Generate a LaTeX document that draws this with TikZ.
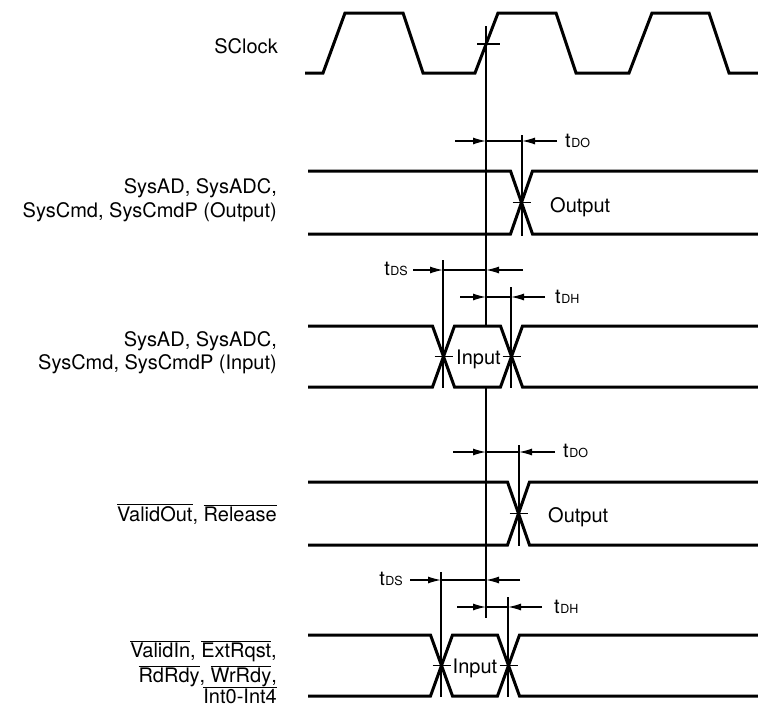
\documentclass[tikz,border=0pt]{standalone}
\usepackage{fontspec}
\setmainfont{TeX Gyre Heros}
\usetikzlibrary{arrows.meta}
\newcommand\ovl[1]{$\overline{\mbox{#1}}$}
\newcommand\tsub[1]{{\fontsize{20}{24}\selectfont t\kern0.5pt\fontsize{12.5}{14}\selectfont #1}}
\begin{document}
\begin{tikzpicture}[x=1pt,y=-1pt,
  sig/.style={line width=3pt},
  thinline/.style={line width=1.2pt},
  dim/.style={line width=1.3pt},
  tip/.style={dim,-{Latex[length=13pt,width=7pt]}},
  lab/.style={anchor=base east, inner sep=0pt, font=\fontsize{20}{24}\selectfont},
  txt/.style={inner sep=0pt, font=\fontsize{20}{24}\selectfont},
  tlab/.style={inner sep=0pt}]
\useasboundingbox (0,0) rectangle (758,713);

% ---- labels on the left
\node[lab] (lclk) at (278,53) {SClock};
\node[lab] (lo1a) at (277,193) {SysAD, SysADC,};
\node[lab] (lo1b) at (277,217) {SysCmd, SysCmdP (Output)};
\node[lab] (li1a) at (277,346) {SysAD, SysADC,};
\node[lab] (li1b) at (277,369) {SysCmd, SysCmdP (Input)};
\node[lab] (lo2) at (277,521) {\ovl{ValidOut}, \ovl{Release}};
\node[lab] (li2a) at (277,657) {\ovl{ValidIn}, \ovl{ExtRqst},};
\node[lab] (li2b) at (277,682) {\ovl{RdRdy}, \ovl{WrRdy},};
\node[lab] (li2c) at (277,703) {\ovl{Int0-Int4}};

% ---- clock
\draw[sig] (305,73) -- (323,73) -- (345,13) -- (403,13) -- (423,73) -- (475,73)
  -- (498,13) -- (556,13) -- (576,73) -- (629,73) -- (652,13) -- (709,13)
  -- (729,73) -- (758,73);
\draw[thinline] (477,44) -- (500,44);

% ---- main reference line
\draw[thinline] (486,26) -- (486,326);
\draw[thinline] (486,387) -- (486,618);

% ---- output row 1
\draw[sig] (308,171) -- (510.5,171) -- (532.5,234) -- (758,234);
\draw[sig] (308,234) -- (510.5,234) -- (532.5,171) -- (758,171);
\draw[thinline] (512.5,202.5) -- (530.5,202.5);
\draw[thinline] (522,135) -- (522,236);
\draw[tip] (455,141) -- (486,141);
\draw[dim] (486,141) -- (522,141);
\draw[tip] (557,141) -- (522,141);
\node[tlab, anchor=base west] (tdo1) at (565,147) {\tsub{DO}};
\node[txt, anchor=base west] (out1) at (550,212) {Output};

% ---- input row 1
\draw[sig] (308,326) -- (432.5,326) -- (454.5,387) -- (500.5,387) -- (522.5,326) -- (758,326);
\draw[sig] (308,387) -- (432.5,387) -- (454.5,326) -- (500.5,326) -- (522.5,387) -- (758,387);
\draw[thinline] (434.5,356.5) -- (452.5,356.5);
\draw[thinline] (502.5,356.5) -- (520.5,356.5);
\draw[thinline] (443,260) -- (443,388);
\draw[thinline] (511,287) -- (511,388);
\draw[tip] (413,270) -- (443,270);
\draw[dim] (443,270) -- (486,270);
\draw[tip] (523,270) -- (486,270);
\node[tlab, anchor=base east] (tds1) at (408,275) {\tsub{DS}};
\draw[tip] (460,297) -- (486,297);
\draw[dim] (486,297) -- (511,297);
\draw[tip] (545,297) -- (511,297);
\node[tlab, anchor=base west] (tdh1) at (555,303) {\tsub{DH}};
\node[txt, anchor=base] (in1) at (478.5,364) {Input};

% ---- output row 2
\draw[sig] (308,482) -- (507.5,482) -- (529.5,545) -- (758,545);
\draw[sig] (308,545) -- (507.5,545) -- (529.5,482) -- (758,482);
\draw[thinline] (509.5,513.5) -- (527.5,513.5);
\draw[thinline] (519,445) -- (519,546);
\draw[tip] (453,452) -- (486,452);
\draw[dim] (486,452) -- (519,452);
\draw[tip] (555,452) -- (519,452);
\node[tlab, anchor=base west] (tdo2) at (563,457) {\tsub{DO}};
\node[txt, anchor=base west] (out2) at (548,522) {Output};

% ---- input row 2
\draw[sig] (308,635) -- (430.5,635) -- (452.5,696) -- (497.5,696) -- (519.5,635) -- (758,635);
\draw[sig] (308,696) -- (430.5,696) -- (452.5,635) -- (497.5,635) -- (519.5,696) -- (758,696);
\draw[thinline] (432.5,665.5) -- (450.5,665.5);
\draw[thinline] (499.5,665.5) -- (517.5,665.5);
\draw[thinline] (441,572) -- (441,697);
\draw[thinline] (508,597) -- (508,697);
\draw[tip] (410,580) -- (441,580);
\draw[dim] (441,580) -- (486,580);
\draw[tip] (520,580) -- (486,580);
\node[tlab, anchor=base east] (tds2) at (403,585) {\tsub{DS}};
\draw[tip] (457,607) -- (486,607);
\draw[dim] (486,607) -- (508,607);
\draw[tip] (542,607) -- (508,607);
\node[tlab, anchor=base west] (tdh2) at (554,613) {\tsub{DH}};
\node[txt, anchor=base] (in2) at (475,673) {Input};
\end{tikzpicture}
\end{document}
